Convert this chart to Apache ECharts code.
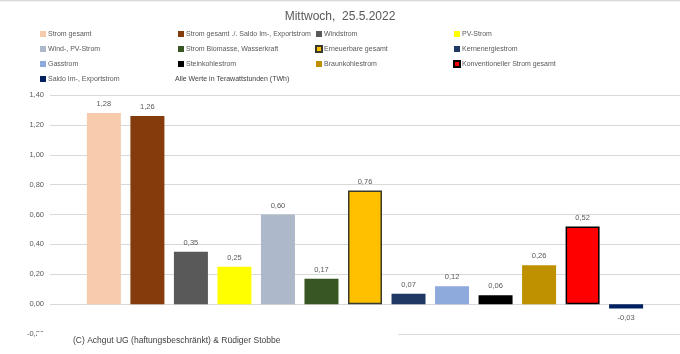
<!DOCTYPE html>
<html>
<head>
<meta charset="utf-8">
<script src="https://cdn.jsdelivr.net/npm/echarts@6/dist/echarts.min.js"></script>
<style>
  html, body { margin: 0; padding: 0; background: #fff; }
  #chart { width: 680px; height: 354px; }
</style>
</head>
<body>
<div id="chart"></div>
<script>
// Werte in TWh, Mittwoch 25.5.2022
var names = [
  "Strom gesamt",
  "Strom gesamt ./. Saldo Im-, Exportstrom",
  "Windstrom",
  "PV-Strom",
  "Wind-, PV-Strom",
  "Strom Biomasse, Wasserkraft",
  "Erneuerbare gesamt",
  "Kernenergiestrom",
  "Gasstrom",
  "Steinkohlestrom",
  "Braunkohlestrom",
  "Konventioneller Strom gesamt",
  "Saldo Im-, Exportstrom"
];
var values = [1.28, 1.26, 0.35, 0.25, 0.60, 0.17, 0.76, 0.07, 0.12, 0.06, 0.26, 0.52, -0.03];
var colors = ["#F8CBAD", "#843C0C", "#595959", "#FFFF00", "#ADB9CA", "#375623", "#FFC000",
  "#1F3864", "#8EA9DB", "#000000", "#BF9000", "#FF0000", "#002060"];
var borders = [null, null, null, null, null, null, "#3A3A2A", null, null, null, null, "#000000", null];

// Legende: 4 Spalten wie im Original
var legendCols = [
  ["Strom gesamt", "Wind-, PV-Strom", "Gasstrom", "Saldo Im-, Exportstrom"],
  ["Strom gesamt ./. Saldo Im-, Exportstrom", "Strom Biomasse, Wasserkraft", "Steinkohlestrom"],
  ["Windstrom", "Erneuerbare gesamt", "Braunkohlestrom"],
  ["PV-Strom", "Kernenergiestrom", "Konventioneller Strom gesamt"]
];
var legendLeft = [40, 178, 315, 453];

var fmt = function (v) {
  return Number(v).toFixed(2).replace(".", ",");
};

var chart = echarts.init(document.getElementById("chart"));

var series = names.map(function (n, i) {
  return {
    name: n,
    type: "bar",
    data: [values[i]],
    barWidth: 34,
    barGap: "28%",
    itemStyle: {
      color: colors[i],
      borderColor: borders[i] || colors[i],
      borderWidth: borders[i] ? 1.5 : 0
    },
    label: {
      show: true,
      position: values[i] < 0 ? "bottom" : "top",
      distance: 5,
      color: "#595959",
      fontSize: 7.5,
      fontFamily: "Liberation Sans",
      formatter: function (p) { return fmt(p.value); }
    }
  };
});

var legends = legendCols.map(function (col, i) {
  return {
    orient: "vertical",
    left: legendLeft[i],
    top: 29,
    padding: 0,
    itemGap: 5,
    itemWidth: 6,
    itemHeight: 6,
    icon: "rect",
    selectedMode: false,
    data: col,
    textStyle: {
      color: "#595959",
      fontSize: 7,
      fontFamily: "Liberation Sans",
      lineHeight: 10,
      padding: [0, 0, 0, -3]
    }
  };
});

var option = {
  animation: false,
  title: {
    text: "Mittwoch,  25.5.2022",
    left: "center",
    top: 6,
    textStyle: {
      color: "#595959",
      fontSize: 12,
      fontWeight: "normal",
      fontFamily: "Liberation Sans"
    }
  },
  legend: legends,
  grid: { left: 50, right: 0, top: 95, bottom: 20 },
  xAxis: {
    type: "category",
    data: [""],
    axisLine: { show: false },
    axisTick: { show: false },
    axisLabel: { show: false }
  },
  yAxis: {
    type: "value",
    min: -0.2,
    max: 1.4,
    interval: 0.2,
    axisLine: { show: false },
    axisTick: { show: false },
    splitLine: { lineStyle: { color: "#D9D9D9", width: 1 } },
    axisLabel: {
      color: "#595959",
      fontSize: 7.5,
      fontFamily: "Liberation Sans",
      margin: 6,
      formatter: function (v) { return fmt(v); }
    }
  },
  graphic: [
    { type: "line", shape: { x1: 0, y1: 0.5, x2: 680, y2: 0.5 },
      style: { stroke: "#D9D9D9", lineWidth: 1.5 } },
    { type: "text", left: 175, top: 76,
      style: { text: "Alle Werte in Terawattstunden (TWh)", fill: "#404040",
        font: "7px 'Liberation Sans'" } },
    { type: "rect", z: 100, shape: { x: 37, y: 332, width: 361, height: 22 },
      style: { fill: "#FFFFFF" } },
    { type: "text", z: 101, left: 73, top: 336,
      style: { text: "(C) Achgut UG (haftungsbeschränkt) & Rüdiger Stobbe", fill: "#404040",
        font: "8.5px 'Liberation Sans'" } }
  ],
  series: series
};

chart.setOption(option);
</script>
</body>
</html>
